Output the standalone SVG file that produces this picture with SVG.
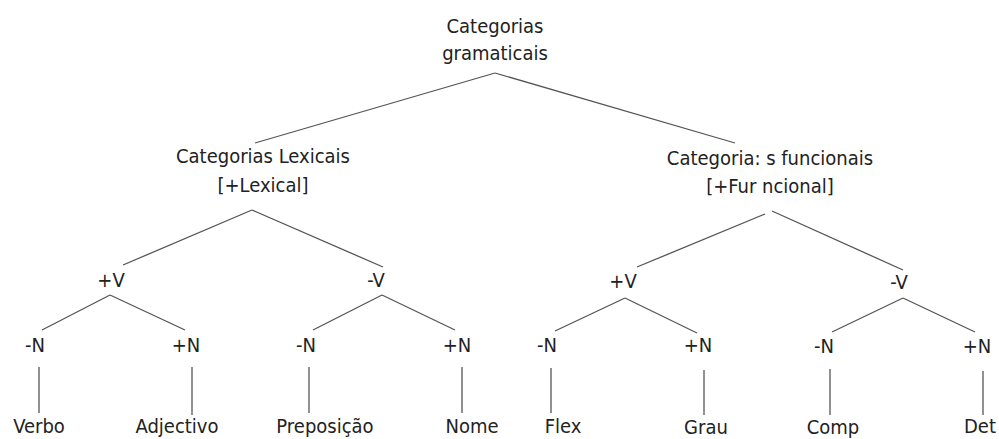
<svg xmlns="http://www.w3.org/2000/svg" width="999" height="439" viewBox="0 0 999 439">
<style>
text{font-family:"DejaVu Sans Condensed","DejaVu Sans",sans-serif;font-size:20px;fill:#222;text-anchor:middle}
#connectors line{stroke:#555;stroke-width:1.3}
</style>
<rect width="999" height="439" fill="#fff"/>
<g id="connectors">
<line x1="495" y1="73" x2="255" y2="143"/>
<line x1="495" y1="73" x2="735" y2="143"/>
<line x1="252" y1="210" x2="123" y2="265"/>
<line x1="252" y1="210" x2="383" y2="267"/>
<line x1="765" y1="214" x2="637" y2="267"/>
<line x1="772" y1="211" x2="903" y2="270"/>
<line x1="110" y1="295" x2="42" y2="330"/>
<line x1="110" y1="295" x2="185" y2="330"/>
<line x1="382" y1="295" x2="313" y2="330"/>
<line x1="382" y1="295" x2="455" y2="330"/>
<line x1="625" y1="298" x2="555" y2="331"/>
<line x1="625" y1="298" x2="697" y2="333"/>
<line x1="903" y1="298" x2="832" y2="332"/>
<line x1="903" y1="298" x2="975" y2="332"/>
<line x1="39" y1="367" x2="39" y2="413"/>
<line x1="192" y1="367" x2="192" y2="415"/>
<line x1="309" y1="367" x2="309" y2="413"/>
<line x1="462" y1="367" x2="462" y2="413"/>
<line x1="551" y1="368" x2="551" y2="413"/>
<line x1="704" y1="370" x2="704" y2="415"/>
<line x1="830" y1="369" x2="830" y2="415"/>
<line x1="983" y1="371" x2="983" y2="415"/>
</g>
<g id="root"><text x="495" y="33">Categorias</text><text x="495" y="60">gramaticais</text></g>
<g id="lexicais"><text x="263" y="163">Categorias Lexicais</text><text x="263" y="192">[+Lexical]</text></g>
<g id="funcionais"><text x="770" y="165">Categoria: s funcionais</text><text x="770" y="193">[+Fur ncional]</text></g>
<g id="lex-plusV"><text x="111" y="287">+V</text></g>
<g id="lex-minusV"><text x="376" y="287">-V</text></g>
<g id="fun-plusV"><text x="623" y="288">+V</text></g>
<g id="fun-minusV"><text x="899" y="289">-V</text></g>
<g id="n1"><text x="35" y="352">-N</text></g>
<g id="n2"><text x="186" y="352">+N</text></g>
<g id="n3"><text x="306" y="352">-N</text></g>
<g id="n4"><text x="457" y="352">+N</text></g>
<g id="n5"><text x="547" y="352">-N</text></g>
<g id="n6"><text x="698" y="352">+N</text></g>
<g id="n7"><text x="824" y="353">-N</text></g>
<g id="n8"><text x="977" y="353">+N</text></g>
<g id="verbo"><text x="39" y="433">Verbo</text></g>
<g id="adjectivo"><text x="177" y="433">Adjectivo</text></g>
<g id="preposicao"><text x="325" y="433">Preposição</text></g>
<g id="nome"><text x="472" y="433">Nome</text></g>
<g id="flex"><text x="563" y="433">Flex</text></g>
<g id="grau"><text x="706" y="434">Grau</text></g>
<g id="comp"><text x="833" y="434">Comp</text></g>
<g id="det"><text x="980" y="433">Det</text></g>
</svg>
